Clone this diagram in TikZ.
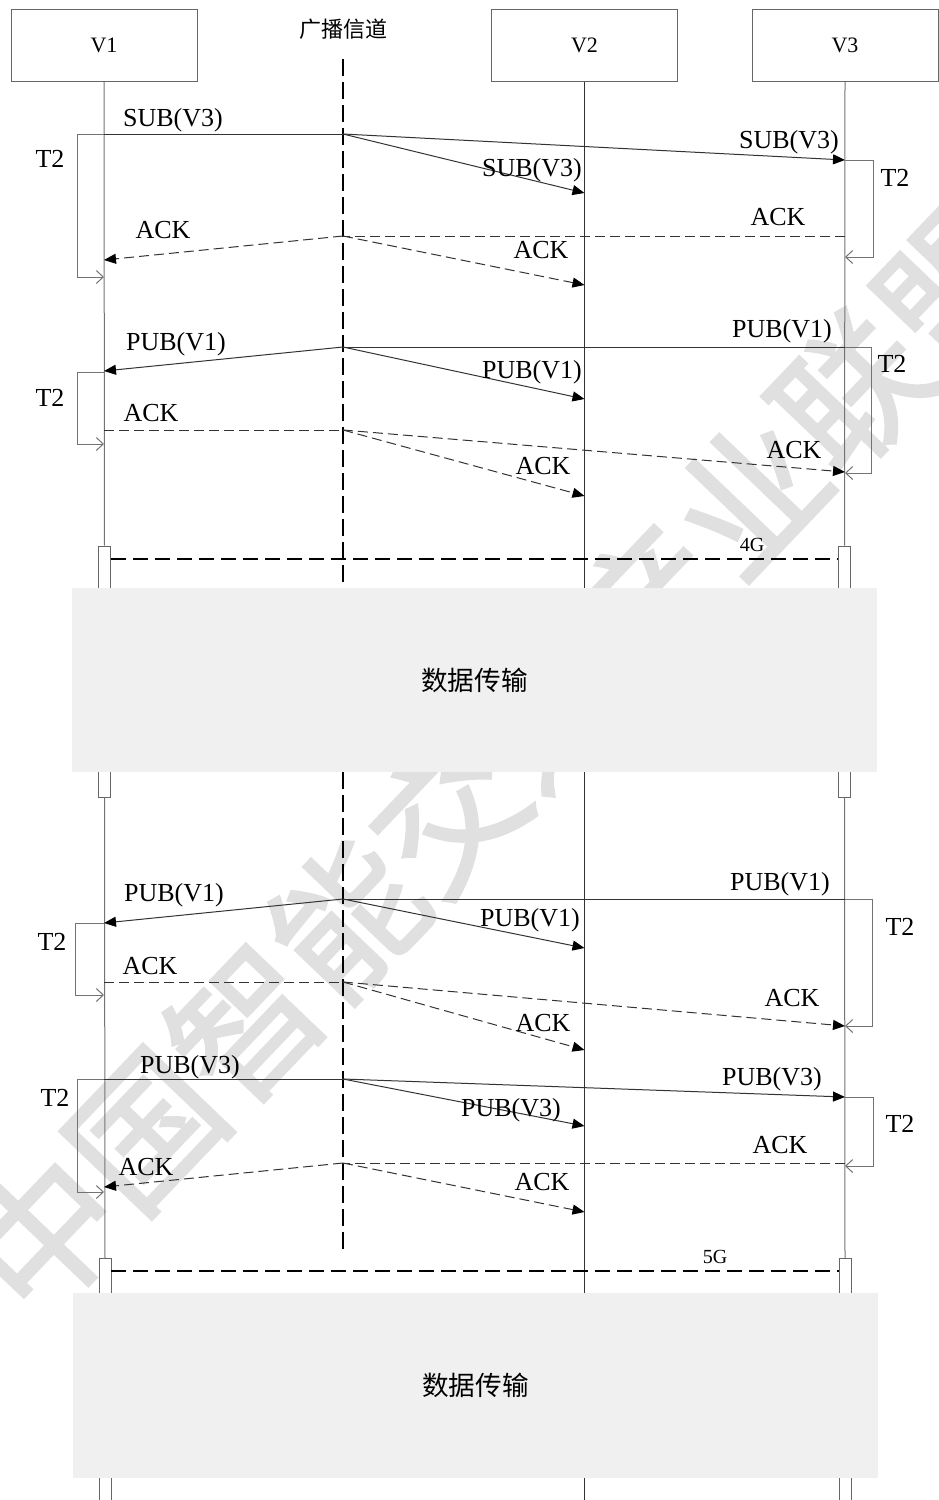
\documentclass[tikz,border=0pt]{standalone}
\usepackage{fontspec}
\setmainfont{Liberation Serif}
\newfontfamily\cjk{Noto Sans CJK SC}
\newfontfamily\wmfont[FakeBold=2]{Noto Sans CJK SC}
\usetikzlibrary{arrows.meta}
\definecolor{boxgray}{RGB}{240,240,240}
\definecolor{wmgray}{RGB}{224,224,224}
\begin{document}
\begin{tikzpicture}[x=0.5pt,y=-0.5pt,
  head/.style={draw=black!60, line width=0.5pt, minimum width=93pt, minimum height=36.2pt, inner sep=0pt, font=\fontsize{11}{13}\selectfont},
  life/.style={draw=black!55, line width=0.5pt},
  lifeb/.style={draw=black!80, line width=0.5pt},
  barbox/.style={draw=black!60, line width=0.5pt, fill=white, minimum width=6.2pt, minimum height=125.5pt, inner sep=0pt},
  bargray/.style={draw=black!60, line width=0.5pt},
  chan/.style={draw=black, line width=1pt, dash pattern=on 8.5pt off 3pt},
  net/.style={draw=black, line width=1pt, dash pattern=on 7.5pt off 3.5pt},
  seg/.style={draw=black!80, line width=0.5pt},
  msg/.style={seg, -{Triangle[length=6pt,width=5pt,color=black]}},
  dseg/.style={seg, dash pattern=on 5pt off 2.5pt},
  dmsg/.style={msg, dash pattern=on 5pt off 2.5pt},
  timer/.style={draw=black!55, line width=0.5pt, -{Straight Barb[length=3.5pt,width=6.5pt]}},
  lbl/.style={font=\fontsize{13}{15}\selectfont, inner sep=0pt, text height=8.6pt, text depth=0pt},
  small/.style={font=\fontsize{10}{12}\selectfont, inner sep=0pt, text height=6.6pt, text depth=0pt},
  phase/.style={fill=boxgray, draw=none, minimum width=402.5pt, minimum height=92.2pt, inner sep=0pt, font=\cjk\fontsize{13.3}{15}\selectfont},
  wmark/.style={text=wmgray, inner sep=0pt, font=\wmfont\fontsize{73}{73}\selectfont}
]
\useasboundingbox (0,0) rectangle (938,1500);

% watermark
\node[wmark, rotate=46.3] (wm) at (498,760) {中国智能交通产业联盟};

% heads
\node[head] (V1) at (104,45.5) {V1};
\node[head] (V2) at (584.5,45.5) {V2};
\node[head] (V3) at (845,45.5) {V3};
\node[font=\cjk\fontsize{11}{13}\selectfont, inner sep=0pt] (bc) at (343.5,29) {广播信道};

% broadcast channel
\coordinate (Bt) at (343,59);
\coordinate (Bb) at (343,1250);
\draw[chan] (Bt) -- (Bb);

% V2 lifeline
\coordinate (V2end) at (584.5,1502);
\draw[lifeb] (V2.south) -- (V2end);

% V1 / V3 lifelines and bars
\node[barbox] (V1bar) at (104.5,671.5) {};
\node[barbox] (V3bar) at (844.5,671.5) {};
\draw[life] (V1.south) -- (V1bar.north);
\draw[life] (V3.south) -- (V3bar.north);
\coordinate (V1bt) at (105,1258);
\coordinate (V3bt) at (845,1258);
\draw[life] (V1bar.south) -- (V1bt);
\draw[life] (V3bar.south) -- (V3bt);
\draw[bargray, fill=white] (99.3,1502) -- (99.3,1258) -- (111.3,1258) -- (111.3,1502);
\draw[bargray, fill=white] (839,1502) -- (839,1258) -- (851,1258) -- (851,1502);

% ---------- section 1: SUB(V3) ----------
\coordinate (a1) at (104,134); \coordinate (aB) at (343,134);
\coordinate (a3) at (845,160); \coordinate (a2) at (584.5,193);
\draw[seg] (a1) -- (aB);
\draw[msg] (aB) -- (a3);
\draw[msg] (aB) -- (a2);
\coordinate (t1a) at (77,134); \coordinate (t1b) at (77,277); \coordinate (t1c) at (104,277);
\draw[timer] (a1) -- (t1a) -- (t1b) -- (t1c);
\coordinate (t3a) at (873,160); \coordinate (t3b) at (873,257); \coordinate (t3c) at (845,257);
\draw[timer] (a3) -- (t3a) -- (t3b) -- (t3c);
\coordinate (k3) at (845,236); \coordinate (kB) at (343,236);
\coordinate (k1) at (104,260); \coordinate (k2) at (584.5,285);
\draw[dseg] (k3) -- (kB);
\draw[dmsg] (kB) -- (k1);
\draw[dmsg] (kB) -- (k2);
\node[lbl] (la1) at (173,118) {SUB(V3)};
\node[lbl] (la3) at (789,140) {SUB(V3)};
\node[lbl] (la2) at (532,168) {SUB(V3)};
\node[lbl] (lt1) at (50,159) {T2};
\node[lbl] (lt3) at (895,178) {T2};
\node[lbl] (lk3) at (778,217) {ACK};
\node[lbl] (lk1) at (163,230) {ACK};
\node[lbl] (lk2) at (541,250) {ACK};

% ---------- section 2: PUB(V1) ----------
\coordinate (b3) at (845,347); \coordinate (bB) at (343,347);
\coordinate (b1) at (104,371); \coordinate (b2) at (584.5,399);
\draw[seg] (b3) -- (bB);
\draw[msg] (bB) -- (b1);
\draw[msg] (bB) -- (b2);
\coordinate (u3a) at (871,347); \coordinate (u3b) at (871,473); \coordinate (u3c) at (845,473);
\draw[timer] (b3) -- (u3a) -- (u3b) -- (u3c);
\coordinate (u1s) at (104,372); \coordinate (u1a) at (77,372); \coordinate (u1b) at (77,444); \coordinate (u1c) at (104,444);
\draw[timer] (u1s) -- (u1a) -- (u1b) -- (u1c);
\coordinate (m1) at (104,430); \coordinate (mB) at (343,430);
\coordinate (m3) at (845,472); \coordinate (m2) at (584.5,496);
\draw[dseg] (m1) -- (mB);
\draw[dmsg] (mB) -- (m3);
\draw[dmsg] (mB) -- (m2);
\node[lbl] (lb1) at (176,342) {PUB(V1)};
\node[lbl] (lb3) at (782,329) {PUB(V1)};
\node[lbl] (lb2) at (532,370) {PUB(V1)};
\node[lbl] (lu3) at (892,364) {T2};
\node[lbl] (lu1) at (50,398) {T2};
\node[lbl] (lm1) at (151,413) {ACK};
\node[lbl] (lm3) at (794,450) {ACK};
\node[lbl] (lm2) at (543,466) {ACK};

% 4G
\coordinate (g1) at (111,559); \coordinate (g3) at (838,559);
\draw[net] (g1) -- (g3);
\node[small] (l4g) at (752,545) {4G};

% data phase 1
\node[phase] (ph1) at (474.5,680) {数据传输};

% ---------- section 3: PUB(V1) ----------
\coordinate (c3) at (845,899); \coordinate (cB) at (343,899);
\coordinate (c1) at (104,923); \coordinate (c2) at (584.5,948);
\draw[seg] (c3) -- (cB);
\draw[msg] (cB) -- (c1);
\draw[msg] (cB) -- (c2);
\coordinate (v3a) at (872,899); \coordinate (v3b) at (872,1026); \coordinate (v3c) at (845,1026);
\draw[timer] (c3) -- (v3a) -- (v3b) -- (v3c);
\coordinate (v1a) at (75,923); \coordinate (v1b) at (75,995); \coordinate (v1c) at (104,995);
\draw[timer] (c1) -- (v1a) -- (v1b) -- (v1c);
\coordinate (n1) at (104,982); \coordinate (nB) at (343,982);
\coordinate (n3) at (845,1026); \coordinate (n2) at (584.5,1050);
\draw[dseg] (n1) -- (nB);
\draw[dmsg] (nB) -- (n3);
\draw[dmsg] (nB) -- (n2);
\node[lbl] (lc1) at (174,893) {PUB(V1)};
\node[lbl] (lc3) at (780,882) {PUB(V1)};
\node[lbl] (lc2) at (530,918) {PUB(V1)};
\node[lbl] (lv3) at (900,927) {T2};
\node[lbl] (lv1) at (52,942) {T2};
\node[lbl] (ln1) at (150,966) {ACK};
\node[lbl] (ln3) at (792,998) {ACK};
\node[lbl] (ln2) at (543,1023) {ACK};

% ---------- section 4: PUB(V3) ----------
\coordinate (d1) at (104,1079); \coordinate (dB) at (343,1079);
\coordinate (d3) at (845,1097); \coordinate (d2) at (584.5,1126);
\draw[seg] (d1) -- (dB);
\draw[msg] (dB) -- (d3);
\draw[msg] (dB) -- (d2);
\coordinate (w1a) at (77,1079); \coordinate (w1b) at (77,1192); \coordinate (w1c) at (104,1192);
\draw[timer] (d1) -- (w1a) -- (w1b) -- (w1c);
\coordinate (w3a) at (873,1097); \coordinate (w3b) at (873,1166); \coordinate (w3c) at (845,1166);
\draw[timer] (d3) -- (w3a) -- (w3b) -- (w3c);
\coordinate (p3) at (845,1163); \coordinate (pB) at (343,1163);
\coordinate (p1) at (104,1187); \coordinate (p2) at (584.5,1212);
\draw[dseg] (p3) -- (pB);
\draw[dmsg] (pB) -- (p1);
\draw[dmsg] (pB) -- (p2);
\node[lbl] (ld1) at (190,1065) {PUB(V3)};
\node[lbl] (ld3) at (772,1077) {PUB(V3)};
\node[lbl] (ld2) at (511,1108) {PUB(V3)};
\node[lbl] (lw3) at (900,1124) {T2};
\node[lbl] (lw1) at (55,1098) {T2};
\node[lbl] (lp3) at (780,1145) {ACK};
\node[lbl] (lp1) at (146,1167) {ACK};
\node[lbl] (lp2) at (542,1182) {ACK};

% 5G
\coordinate (h1) at (111,1271); \coordinate (h3) at (839,1271);
\draw[net] (h1) -- (h3);
\node[small] (l5g) at (715,1257) {5G};

% data phase 2
\node[phase] (ph2) at (475.5,1385.5) {数据传输};
\end{tikzpicture}
\end{document}
